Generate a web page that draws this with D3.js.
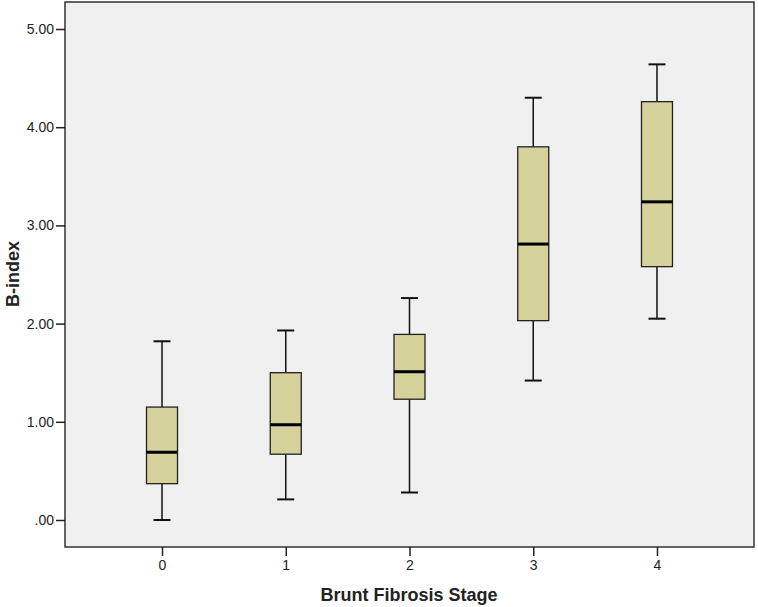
<!DOCTYPE html>
<html><head><meta charset="utf-8">
<script src="https://cdn.jsdelivr.net/npm/d3@7"></script>
<style>body{margin:0;background:#fff;} text{font-family:"Liberation Sans",Arial,sans-serif;}</style>
</head><body><svg id="c" width="758" height="607"></svg>
<script>
const categories = ["0","1","2","3","4"];
const whiskerLow  = [0.00, 0.21, 0.28, 1.42, 2.05];
const q1          = [0.37, 0.67, 1.23, 2.03, 2.58];
const median      = [0.69, 0.97, 1.51, 2.81, 3.24];
const q3          = [1.15, 1.50, 1.89, 3.80, 4.26];
const whiskerHigh = [1.82, 1.93, 2.26, 4.30, 4.64];
const yTicks = [0, 1, 2, 3, 4, 5];

const svg = d3.select("#c");
const L = 65, R = 754, T = 2, B = 547;
const x = d3.scalePoint().domain(categories).range([L, R]).padding(0.784);
const y = d3.scaleLinear().domain([0, 5]).range([520, 29]);

svg.append("rect").attr("x", L).attr("y", T).attr("width", R - L).attr("height", B - T)
  .attr("fill", "#f0f0f0").attr("stroke", "#333").attr("stroke-width", 1.5);

const yAxis = svg.append("g").attr("transform", `translate(${L},0)`)
  .call(d3.axisLeft(y).tickValues(yTicks).tickSize(9).tickPadding(2)
    .tickFormat(d => d === 0 ? ".00" : d3.format(".2f")(d)));
const xAxis = svg.append("g").attr("transform", `translate(0,${B})`)
  .call(d3.axisBottom(x).tickSize(9).tickPadding(4));
[yAxis, xAxis].forEach(g => {
  g.select(".domain").remove();
  g.selectAll(".tick line").attr("stroke", "#222").attr("stroke-width", 1.5);
  g.selectAll(".tick text").attr("fill", "#222").style("font-size", "14px");
});

const boxW = 31, capW = 17;
const data = categories.map((c, i) => ({c, lo: whiskerLow[i], q1: q1[i], med: median[i], q3: q3[i], hi: whiskerHigh[i]}));
const g = svg.append("g").selectAll("g").data(data).join("g");
g.append("line").attr("x1", d => x(d.c)).attr("x2", d => x(d.c))
  .attr("y1", d => y(d.hi)).attr("y2", d => y(d.q3)).attr("stroke", "#111").attr("stroke-width", 1.5);
g.append("line").attr("x1", d => x(d.c)).attr("x2", d => x(d.c))
  .attr("y1", d => y(d.q1)).attr("y2", d => y(d.lo)).attr("stroke", "#111").attr("stroke-width", 1.5);
g.append("line").attr("x1", d => x(d.c) - capW / 2).attr("x2", d => x(d.c) + capW / 2)
  .attr("y1", d => y(d.hi)).attr("y2", d => y(d.hi)).attr("stroke", "#111").attr("stroke-width", 2);
g.append("line").attr("x1", d => x(d.c) - capW / 2).attr("x2", d => x(d.c) + capW / 2)
  .attr("y1", d => y(d.lo)).attr("y2", d => y(d.lo)).attr("stroke", "#111").attr("stroke-width", 2);
g.append("rect").attr("x", d => x(d.c) - boxW / 2).attr("width", boxW)
  .attr("y", d => y(d.q3)).attr("height", d => y(d.q1) - y(d.q3))
  .attr("fill", "#d6d29c").attr("stroke", "#222").attr("stroke-width", 1.3);
g.append("line").attr("x1", d => x(d.c) - boxW / 2).attr("x2", d => x(d.c) + boxW / 2)
  .attr("y1", d => y(d.med)).attr("y2", d => y(d.med)).attr("stroke", "#000").attr("stroke-width", 3);

svg.append("text").attr("x", 409).attr("y", 601).attr("text-anchor", "middle")
  .style("font-size", "18px").style("font-weight", "bold").attr("fill", "#222").text("Brunt Fibrosis Stage");
svg.append("text").attr("transform", "translate(19,274) rotate(-90)").attr("text-anchor", "middle")
  .style("font-size", "18px").style("font-weight", "bold").attr("fill", "#222").text("B-index");
</script></body></html>
